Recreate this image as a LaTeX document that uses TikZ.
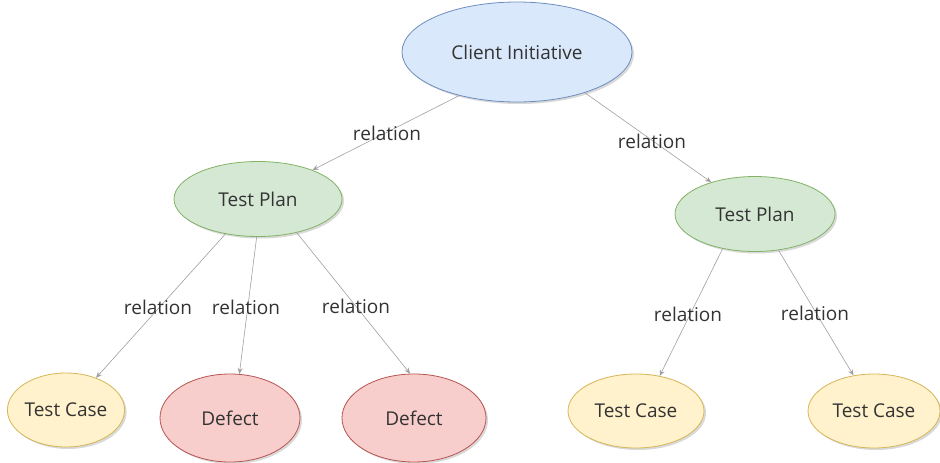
\documentclass[tikz,border=0pt]{standalone}
\usepackage{fontspec}
\setmainfont{Open Sans}
\usetikzlibrary{shapes.geometric,shadows,arrows.meta}

\definecolor{blueFill}{HTML}{DAE8FC}\definecolor{blueLine}{HTML}{6C8EBF}
\definecolor{greenFill}{HTML}{D5E8D4}\definecolor{greenLine}{HTML}{82B366}
\definecolor{yellowFill}{HTML}{FFF2CC}\definecolor{yellowLine}{HTML}{D6B656}
\definecolor{redFill}{HTML}{F8CECC}\definecolor{redLine}{HTML}{B85450}
\definecolor{edgeGray}{HTML}{A0A0A0}
\definecolor{textGray}{HTML}{333333}

\tikzset{
  entity/.style={ellipse, draw, line width=0.8pt, inner sep=0pt,
    font=\fontsize{19}{22}\selectfont, text=textGray,
    drop shadow={shadow xshift=2pt, shadow yshift=-2pt, opacity=0.25, fill=black!60}},
  initiative/.style={entity, fill=blueFill, draw=blueLine},
  plan/.style={entity, fill=greenFill, draw=greenLine},
  testcase/.style={entity, fill=yellowFill, draw=yellowLine},
  defect/.style={entity, fill=redFill, draw=redLine},
  rel/.style={draw=edgeGray, line width=0.6pt,
    -{Stealth[length=6pt,width=5pt]}},
  rellabel/.style={font=\fontsize{19}{22}\selectfont, text=textGray, inner sep=1pt}
}

\begin{document}
\begin{tikzpicture}[x=1pt, y=-1pt]
  \useasboundingbox (0,0) rectangle (940,463);

  % entities
  \node[initiative, minimum width=230pt, minimum height=100pt] (ci)   at (517,52)  {Client Initiative};
  \node[plan,       minimum width=168pt, minimum height=75pt]  (tpl)  at (258,199) {Test Plan};
  \node[plan,       minimum width=160pt, minimum height=75pt]  (tpr)  at (755,214) {Test Plan};
  \node[testcase,   minimum width=116pt, minimum height=74pt]  (tc1)  at (66,410)  {Test Case};
  \node[defect,     minimum width=140pt, minimum height=88pt]  (df1)  at (230,418) {Defect};
  \node[defect,     minimum width=144pt, minimum height=88pt]  (df2)  at (414,418) {Defect};
  \node[testcase,   minimum width=136pt, minimum height=74pt]  (tc3)  at (636,411) {Test Case};
  \node[testcase,   minimum width=132pt, minimum height=74pt]  (tc4)  at (874,411) {Test Case};

  % relations
  \draw[rel] (ci.217)  -- (tpl.28);
  \draw[rel] (ci.-31)  -- (tpr.144);
  \draw[rel] (tpl.227) -- (tc1.47);
  \draw[rel] (tpl.268) -- (df1.78);
  \draw[rel] (tpl.-41) -- (df2.95);
  \draw[rel] (tpr.227) -- (tc3.56);
  \draw[rel] (tpr.-57) -- (tc4.120);

  % relation labels
  \node[rellabel] (l1) at (387,133) {relation};
  \node[rellabel] (l2) at (652,141) {relation};
  \node[rellabel] (l3) at (158,307) {relation};
  \node[rellabel] (l4) at (246,307) {relation};
  \node[rellabel] (l5) at (356,306) {relation};
  \node[rellabel] (l6) at (688,314) {relation};
  \node[rellabel] (l7) at (815,313) {relation};
\end{tikzpicture}
\end{document}
